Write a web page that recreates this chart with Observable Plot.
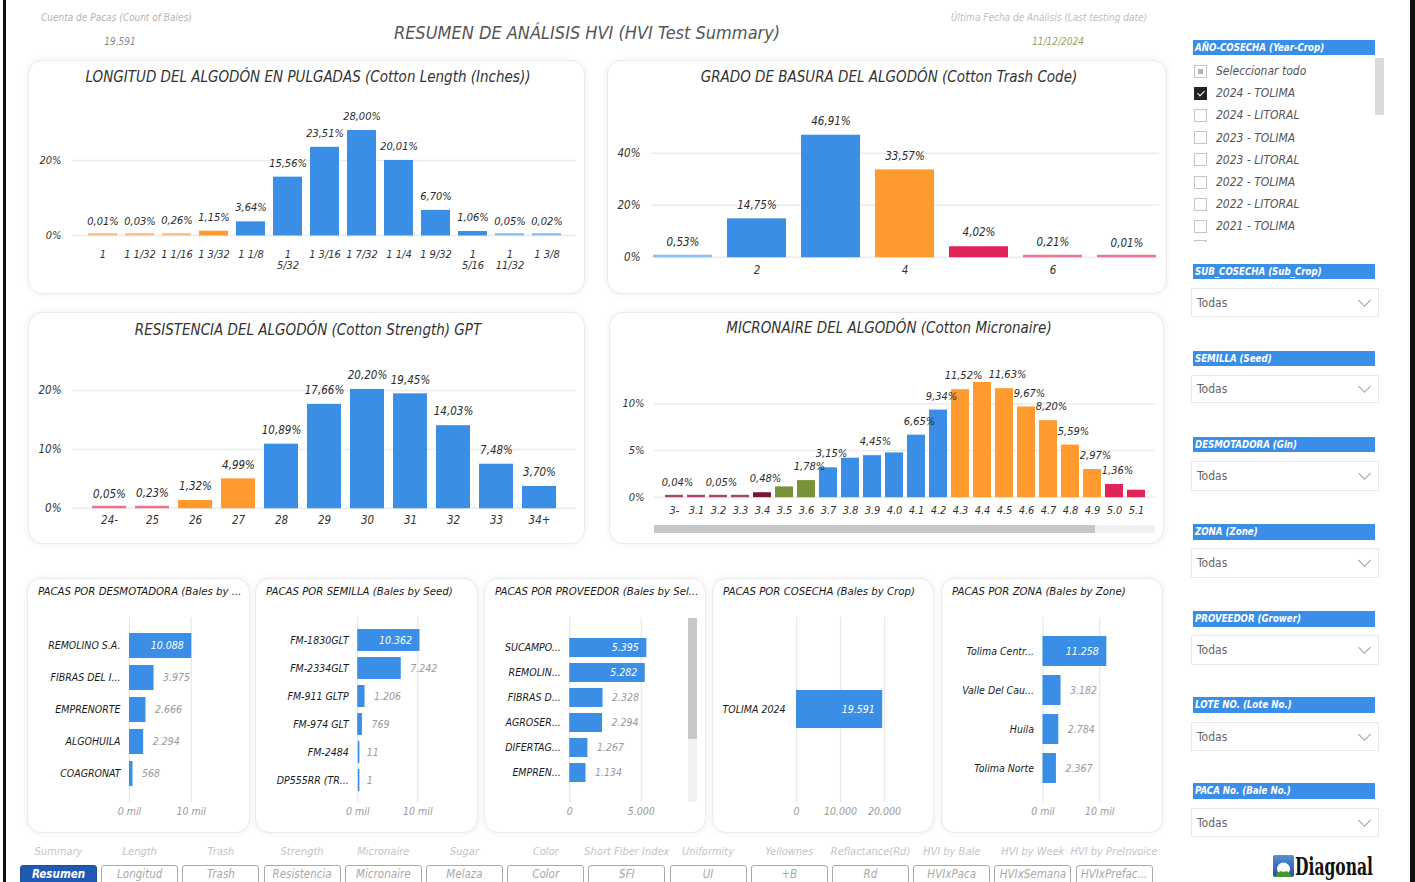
<!DOCTYPE html>
<html><head><meta charset="utf-8">
<script src="https://cdn.jsdelivr.net/npm/d3@7"></script>
<script src="https://cdn.jsdelivr.net/npm/@observablehq/plot@0.6"></script>
<style>
html,body{margin:0;padding:0;background:#fff;overflow:hidden;}
#dash{position:relative;width:1415px;height:882px;overflow:hidden;background:#fff;
  font-family:"Liberation Sans Narrow","DejaVu Sans Condensed","Roboto Condensed","Arial Narrow",Roboto,sans-serif;font-style:italic;}
.abs{position:absolute;white-space:nowrap;line-height:1;}
.panel{position:absolute;background:#fff;border:1px solid #ebebeb;border-radius:14px;box-shadow:0 0 6px rgba(0,0,0,0.07);box-sizing:border-box;}
.chart{position:absolute;}
.chart svg{overflow:visible;display:block;}
.box{position:absolute;box-sizing:border-box;}
</style>
</head><body><div id="dash"></div>
<script>
const FONT = '"Liberation Sans Narrow","DejaVu Sans Condensed","Roboto Condensed","Arial Narrow",Roboto,sans-serif';

// ---------- DATA ----------
const totalBales = "19.591";
const lastDate = "11/12/2024";

const lengthCats = ["1","1 1/32","1 1/16","1 3/32","1 1/8","1\n5/32","1 3/16","1 7/32","1 1/4","1 9/32","1\n5/16","1\n11/32","1 3/8"];
const lengthPct = [0.01,0.03,0.26,1.15,3.64,15.56,23.51,28.00,20.01,6.70,1.06,0.05,0.02];
const lengthGrade = ["muy corta","muy corta","muy corta","corta","base","base","base","base","base","base","base","larga","larga"];

const trashCats = ["1","2","3","4","5","6","7"];
const trashPct = [0.53,14.75,46.91,33.57,4.02,0.21,0.01];
const trashGrade = ["limpio","base","base","medio","alto","muy alto","muy alto"];
const trashTickLabels = ["2","4","6"];

const strengthCats = ["24-","25","26","27","28","29","30","31","32","33","34+"];
const strengthPct = [0.05,0.23,1.32,4.99,10.89,17.66,20.20,19.45,14.03,7.48,3.70];
const strengthGrade = ["débil","débil","media","media","fuerte","fuerte","fuerte","fuerte","fuerte","fuerte","fuerte"];

const micCats = ["3-","3.1","3.2","3.3","3.4","3.5","3.6","3.7","3.8","3.9","4.0","4.1","4.2","4.3","4.4","4.5","4.6","4.7","4.8","4.9","5.0","5.1"];
const micPct = [0.04,0.04,0.05,0.04,0.48,1.10,1.78,3.15,4.18,4.45,4.75,6.65,9.34,11.52,12.30,11.63,9.67,8.20,5.59,2.97,1.36,0.75];
const micGrade = ["muy bajo","muy bajo","muy bajo","muy bajo","bajo","descuento","descuento","premium","premium","premium","premium","premium","premium","base","base","base","base","base","base","base","alto","alto"];
const micLabeled = ["3-","3.2","3.4","3.6","3.7","3.9","4.1","4.2","4.3","4.5","4.6","4.7","4.8","4.9","5.0"];

const ginNames = ["REMOLINO S.A.","FIBRAS DEL I...","EMPRENORTE","ALGOHUILA","COAGRONAT"];
const ginBales = [10088,3975,2666,2294,568];
const seedNames = ["FM-1830GLT","FM-2334GLT","FM-911 GLTP","FM-974 GLT","FM-2484","DP555RR (TR..."];
const seedBales = [10362,7242,1206,769,11,1];
const growerNames = ["SUCAMPO...","REMOLIN...","FIBRAS D...","AGROSER...","DIFERTAG...","EMPREN..."];
const growerBales = [5395,5282,2328,2294,1267,1134];
const cropNames = ["TOLIMA 2024"];
const cropBales = [19591];
const zoneNames = ["Tolima Centr...","Valle Del Cau...","Huila","Tolima Norte"];
const zoneBales = [11258,3182,2784,2367];

const yearCropItems = ["Seleccionar todo","2024 - TOLIMA","2024 - LITORAL","2023 - TOLIMA","2023 - LITORAL","2022 - TOLIMA","2022 - LITORAL","2021 - TOLIMA"];
const slicers = ["SUB_COSECHA (Sub_Crop)","SEMILLA (Seed)","DESMOTADORA (Gin)","ZONA (Zone)","PROVEEDOR (Grower)","LOTE NO. (Lote No.)","PACA No. (Bale No.)"];
const tabNames = ["Resumen","Longitud","Trash","Resistencia","Micronaire","Melaza","Color","SFI","UI","+B","Rd","HVIxPaca","HVIxSemana","HVIxPrefac..."];
const tabCaptions = ["Summary","Length","Trash","Strength","Micronaire","Sugar","Color","Short Fiber Index","Uniformity","Yellownes","Reflactance(Rd)","HVI by Bale","HVI by Week","HVI by PreInvoice"];

// ---------- COLOURS ----------
const BLUE="#3a8ee6", ORANGE="#fe9a2e", LORANGE="#fcc089", LBLUE="#8dc0f0", CRIMSON="#e2245a", PINK="#ef7391", MAROON="#7a1532", MPINK="#a8476a", OLIVE="#789339";

// ---------- HELPERS ----------
const dash = document.getElementById("dash");
function label(str, x, y, o = {}) {
  const d = document.createElement("div");
  d.className = "abs";
  d.textContent = str;
  const a = o.anchor || "middle";
  const tx = a === "middle" ? "-50%" : a === "end" ? "-100%" : "0";
  d.style.left = x + "px"; d.style.top = y + "px";
  d.style.transform = `translate(${tx},-50%)` + (o.scaleX ? ` scaleX(${o.scaleX})` : "");
  d.style.fontSize = (o.size || 12) + "px";
  d.style.color = o.color || "#333";
  d.style.fontWeight = o.weight || "normal";
  d.style.fontStyle = o.style || "italic";
  if (o.family) d.style.fontFamily = o.family;
  dash.appendChild(d);
  return d;
}
function box(x, y, w, h, css) {
  const d = document.createElement("div");
  d.className = "box";
  d.style.cssText += `left:${x}px;top:${y}px;width:${w}px;height:${h}px;` + (css || "");
  dash.appendChild(d);
  return d;
}
function panel(x, y, w, h) { const d = box(x, y, w, h); d.className = "panel"; return d; }
function mount(svg, x, y, w, h) {
  const d = document.createElement("div");
  d.className = "chart";
  d.style.cssText += `left:${x}px;top:${y}px;width:${w}px;height:${h}px;`;
  d.appendChild(svg);
  dash.appendChild(d);
}
const fmtPct = v => v.toFixed(2).replace(".", ",") + "%";
const fmtInt = v => String(v).replace(/\B(?=(\d{3})+(?!\d))/g, ".");

function columnChart(c) {
  const data = c.cats.map((k, i) => ({k, v: c.vals[i], g: c.grades[i]}));
  const shown = c.labeled ? data.filter(d => c.labeled.includes(d.k)) : data;
  return Plot.plot({
    width: c.w, height: c.h,
    marginLeft: c.mL, marginRight: c.mR, marginTop: c.mT, marginBottom: c.mB,
    style: {fontFamily: FONT, fontStyle: "italic", fontSize: (c.fs || 11.5) + "px", color: "#333", background: "transparent", overflow: "visible"},
    x: {domain: c.cats, paddingInner: c.pi, paddingOuter: c.po, label: null, tickSize: 0, tickPadding: c.xPad,
        tickFormat: c.xFmt || (d => d)},
    y: {domain: c.yDomain, ticks: c.yTicks, tickFormat: d => d + "%", label: null, tickSize: 0, tickPadding: c.yPad || 11},
    color: {domain: c.gradeDomain, range: c.gradeRange},
    marks: [
      Plot.ruleY(c.yTicks, {stroke: "#ebebeb", strokeWidth: 1.5}),
      Plot.barY(data, {x: "k", y: "v", fill: "g"}),
      Plot.tickY(data, {x: "k", y: 0, stroke: "g", strokeWidth: 2.4, dy: -1.2}),
      Plot.text(shown, {x: "k", y: "v", text: d => fmtPct(d.v), dy: -14, dx: c.ldx || 0, fill: "#2b2b2b", fontSize: c.lfs || 11.5})
    ]
  });
}

function barChart(c) {
  const data = c.cats.map((k, i) => ({k, v: c.vals[i]}));
  const pxPer = (c.w - c.mL - c.mR) / c.xDomain[1];
  const inside = data.filter(d => d.v * pxPer > 50);
  const outside = data.filter(d => d.v * pxPer <= 50);
  return Plot.plot({
    width: c.w, height: c.h,
    marginLeft: c.mL, marginRight: c.mR, marginTop: c.mT, marginBottom: c.mB,
    style: {fontFamily: FONT, fontStyle: "italic", fontSize: "10.5px", color: "#1a1a1a", background: "transparent", overflow: "visible"},
    x: {domain: c.xDomain, axis: null},
    y: {domain: c.cats, paddingInner: c.pi, paddingOuter: c.po, label: null, tickSize: 0, tickPadding: c.yPad || 9},
    marks: [
      Plot.ruleX(c.xTicks, {stroke: "#e6e6e6", strokeWidth: 1.2}),
      Plot.barX(data, {x: "v", y: "k", fill: BLUE}),
      Plot.tickX(data, {x: 0, y: "k", stroke: BLUE, strokeWidth: 1.6, dx: 0.8}),
      Plot.text(inside, {x: "v", y: "k", text: d => fmtInt(d.v), textAnchor: "end", dx: -8, fill: "#fff", fontSize: 10.5}),
      Plot.text(outside, {x: "v", y: "k", text: d => fmtInt(d.v), textAnchor: "start", dx: 9, fill: "#9a9a9a", fontSize: 10.5}),
      Plot.text(c.xTicks, {x: d => d, frameAnchor: "bottom", dy: 12, text: c.xFmt, fill: "#9a9a9a", fontSize: 10.5})
    ]
  });
}

// ---------- FRAME ----------
box(3, 0, 3, 882, "background:#111;");
box(1410, 0, 5, 882, "background:#111;");

// ---------- HEADER ----------
label("Cuenta de Pacas (Count of Bales)", 41, 18, {anchor: "start", size: 10, color: "#b3b3b3"});
label(totalBales, 120, 42, {size: 10, color: "#8a8a8a"});
label("RESUMEN DE ANÁLISIS HVI (HVI Test Summary)", 587, 33, {size: 18, color: "#555"});
label("Última Fecha de Análisis (Last testing date)", 951, 18, {anchor: "start", size: 10, color: "#bdbdbd"});
label(lastDate, 1058, 42, {size: 10, color: "#93a05f"});

// ---------- TOP CHARTS ----------
panel(28, 60, 557, 234);
label("LONGITUD DEL ALGODÓN EN PULGADAS (Cotton Length (Inches))", 308, 77, {size: 15, color: "#333"});
mount(columnChart({cats: lengthCats, vals: lengthPct, grades: lengthGrade,
  gradeDomain: ["muy corta","corta","base","larga"], gradeRange: [LORANGE, ORANGE, BLUE, LBLUE],
  w: 557, h: 234, mL: 44, mR: 9, mT: 25, mB: 59, yDomain: [0, 40], yTicks: [0, 20], pi: 0.22, po: 0.4, xPad: 15, fs: 11, lfs: 11}), 28, 60, 557, 234);

panel(607, 60, 560, 234);
label("GRADO DE BASURA DEL ALGODÓN (Cotton Trash Code)", 889, 77, {size: 15, color: "#333"});
mount(columnChart({cats: trashCats, vals: trashPct, grades: trashGrade,
  gradeDomain: ["limpio","base","medio","alto","muy alto"], gradeRange: [LBLUE, BLUE, ORANGE, CRIMSON, PINK],
  w: 560, h: 234, mL: 44, mR: 8, mT: 53.7, mB: 37.3, yDomain: [0, 55], yTicks: [0, 20, 40], pi: 0.2, po: 0, xPad: 9,
  xFmt: d => trashTickLabels.includes(d) ? d : ""}), 607, 60, 560, 234);

// ---------- MIDDLE CHARTS ----------
panel(28, 312, 557, 232);
label("RESISTENCIA DEL ALGODÓN (Cotton Strength) GPT", 308, 330, {size: 15, color: "#333"});
mount(columnChart({cats: strengthCats, vals: strengthPct, grades: strengthGrade,
  gradeDomain: ["débil","media","fuerte"], gradeRange: [PINK, ORANGE, BLUE],
  w: 557, h: 232, mL: 44, mR: 9, mT: 48.7, mB: 36.3, yDomain: [0, 25], yTicks: [0, 10, 20], pi: 0.2, po: 0.4, xPad: 8}), 28, 312, 557, 232);

panel(609, 312, 555, 232);
label("MICRONAIRE DEL ALGODÓN (Cotton Micronaire)", 889, 328, {size: 15, color: "#333"});
mount(columnChart({cats: micCats, vals: micPct, grades: micGrade, labeled: micLabeled,
  gradeDomain: ["muy bajo","bajo","descuento","premium","base","alto"], gradeRange: [MPINK, MAROON, OLIVE, BLUE, ORANGE, CRIMSON],
  w: 555, h: 232, mL: 45, mR: 9, mT: 54.1, mB: 47.3, yDomain: [0, 14], yTicks: [0, 5, 10], pi: 0.2, po: 0.1, xPad: 9, yPad: 10, ldx: 3, fs: 11, lfs: 11}), 609, 312, 555, 232);
box(654, 525, 501, 8, "background:#f1f1f1;");
box(654, 525, 441, 8, "background:#c6c6c6;");

// ---------- BOTTOM CHARTS ----------
const bottom = [
  {x: 27, w: 223, title: "PACAS POR DESMOTADORA (Bales by ...", cats: ginNames, vals: ginBales, mL: 102, mR: 28.4,
   xDomain: [0, 15000], xTicks: [0, 10000], xFmt: d => (d / 1000) + " mil", pi: 0.21, po: 0.42},
  {x: 255, w: 223, title: "PACAS POR SEMILLA (Bales by Seed)", cats: seedNames, vals: seedBales, mL: 102.3, mR: 30.7,
   xDomain: [0, 15000], xTicks: [0, 10000], xFmt: d => (d / 1000) + " mil", pi: 0.22, po: 0.41},
  {x: 484, w: 222, title: "PACAS POR PROVEEDOR (Bales by Sel...", cats: growerNames, vals: growerBales, mL: 85.3, mR: 36.7,
   xDomain: [0, 7000], xTicks: [0, 5000], xFmt: fmtInt, pi: 0.24, po: 0.77},
  {x: 712, w: 222, title: "PACAS POR COSECHA (Bales by Crop)", cats: cropNames, vals: cropBales, mL: 84, mR: 28,
   xDomain: [0, 25000], xTicks: [0, 10000, 20000], xFmt: fmtInt, pi: 0.2, po: 1.5, yPad: 11},
  {x: 941, w: 222, title: "PACAS POR ZONA (Bales by Zone)", cats: zoneNames, vals: zoneBales, mL: 101.5, mR: 35.5,
   xDomain: [0, 15000], xTicks: [0, 10000], xFmt: d => (d / 1000) + " mil", pi: 0.23, po: 0.45}
];
for (const b of bottom) {
  panel(b.x, 578, b.w, 255);
  label(b.title, b.x + 11, 592, {anchor: "start", size: 11.3, color: "#1a1a1a"});
  mount(barChart({...b, h: 255, mT: 39, mB: 31}), b.x, 578, b.w, 255);
}
box(688, 618, 9, 184, "background:#f2f2f2;");
box(688, 618, 9, 121, "background:#c8c8c8;");

// ---------- SIDEBAR ----------
function slicerHeader(txt, y1, y2) {
  box(1193, y1, 182, y2 - y1, "background:#3b8ee8;");
  label(txt, 1195, (y1 + y2) / 2, {anchor: "start", size: 9.6, color: "#fff", weight: "bold"});
}
slicerHeader("AÑO-COSECHA (Year-Crop)", 40, 55);
yearCropItems.forEach((t, i) => {
  const cy = 71 + i * 22.2;
  const cb = box(1194, cy - 6.5, 13, 13, "border:1px solid #c4c4c4;background:#fff;");
  if (i === 0) cb.innerHTML = '<div style="position:absolute;left:3px;top:3px;width:5px;height:5px;background:#b5b5b5"></div>';
  if (i === 1) { cb.style.background = "#222"; cb.style.borderColor = "#222";
    cb.innerHTML = '<div style="position:absolute;left:3.5px;top:1px;width:3px;height:6px;border:solid #fff;border-width:0 1.5px 1.5px 0;transform:rotate(45deg)"></div>'; }
  label(t, 1216, cy, {anchor: "start", size: 12, color: "#555"});
});
box(1194, 240, 13, 2, "border:1px solid #c4c4c4;border-bottom:none;background:#fff;");
box(1375, 58, 9, 57, "background:#dadada;");

const slicerPos = [[264, 279, 288, 317], [351, 366, 375, 403], [437, 452, 461, 491], [524, 540, 548, 578], [611, 627, 635, 665], [697, 713, 722, 751], [783, 799, 808, 837]];
slicers.forEach((s, i) => {
  const [h1, h2, d1, d2] = slicerPos[i];
  slicerHeader(s, h1, h2);
  box(1191, d1, 188, d2 - d1, "border:1px solid #e8e8e8;background:#fff;");
  label("Todas", 1197, (d1 + d2) / 2, {anchor: "start", size: 12, color: "#666", style: "normal"});
  box(1360, (d1 + d2) / 2 - 7, 9, 9, "border:solid #9a9a9a;border-width:0 1px 1px 0;transform:rotate(45deg);");
});

// logo
const logo = box(1273, 855, 21, 22, "overflow:hidden;border-radius:2px;");
logo.innerHTML = '<svg width="21" height="22"><defs><linearGradient id="lg" x1="0" y1="0" x2="0" y2="1"><stop offset="0" stop-color="#5a8fd8"/><stop offset="1" stop-color="#1d4f9e"/></linearGradient></defs><rect width="21" height="22" fill="url(#lg)"/><circle cx="10.5" cy="14" r="6.5" fill="#fff"/><path d="M2 22 Q6 14 10.5 17 Q15 14 19 22 Z" fill="#3f9a2f"/></svg>';
label("Diagonal", 1334, 867, {size: 24, color: "#111", weight: "bold", style: "normal", scaleX: 0.72, family: '"DejaVu Serif Condensed","Liberation Serif",serif'});

// ---------- TABS ----------
tabNames.forEach((t, i) => {
  const x = 20 + i * 81.2;
  label(tabCaptions[i], x + 38.5, 851, {size: 11, color: "#c4c4c4"});
  const active = i === 0;
  box(x, 865, 77, 30, active ? "background:#1f59b3;border:1.5px solid #1a4d9c;border-radius:3px;" : "background:#fff;border:1.5px solid #a9a9a9;border-radius:3px;");
  label(t, x + 38.5, 874.5, {size: 11.5, color: active ? "#fff" : "#a8a8a8", weight: active ? "bold" : "normal"});
});
</script></body></html>
